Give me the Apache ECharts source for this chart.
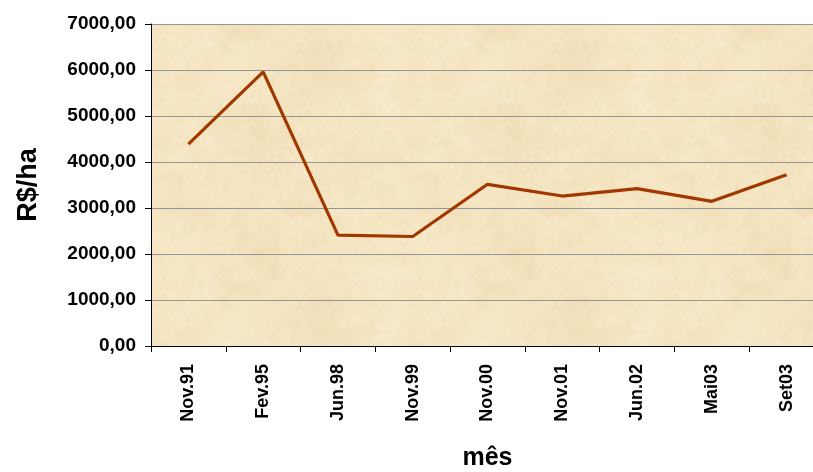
<!DOCTYPE html>
<html>
<head>
<meta charset="utf-8">
<script src="https://cdn.jsdelivr.net/npm/echarts@6/dist/echarts.min.js"></script>
<style>
  html, body { margin: 0; padding: 0; background: #ffffff; }
  #chart { width: 813px; height: 472px; }
</style>
</head>
<body>
<div id="chart"></div>
<script>
// Custo por hectare ao longo dos levantamentos
const months = ['Nov.91', 'Fev.95', 'Jun.98', 'Nov.99', 'Nov.00', 'Nov.01', 'Jun.02', 'Mai03', 'Set03'];
const costPerHa = [4390, 5960, 2410, 2380, 3515, 3260, 3420, 3145, 3725];
const yTicks = { min: 0, max: 7000, interval: 1000 };

// Parchment-like texture for the plot area (smooth value noise, deterministic)
function parchment(size) {
  const c = document.createElement('canvas');
  c.width = c.height = size;
  const ctx = c.getContext('2d');
  const img = ctx.createImageData(size, size);
  const h = (i, j) => {
    const s = Math.sin(i * 127.1 + j * 311.7) * 43758.5453;
    return s - Math.floor(s);
  };
  const smooth = t => t * t * (3 - 2 * t);
  const noise = (x, y, cell) => {
    const gx = x / cell, gy = y / cell;
    const x0 = Math.floor(gx), y0 = Math.floor(gy);
    const n = size / cell;
    const fx = smooth(gx - x0), fy = smooth(gy - y0);
    const a = h(x0 % n, y0 % n), b = h((x0 + 1) % n, y0 % n);
    const c2 = h(x0 % n, (y0 + 1) % n), d = h((x0 + 1) % n, (y0 + 1) % n);
    return (a * (1 - fx) + b * fx) * (1 - fy) + (c2 * (1 - fx) + d * fx) * fy;
  };
  for (let y = 0; y < size; y++) {
    for (let x = 0; x < size; x++) {
      const v = 0.35 * noise(x, y, 64) + 0.35 * noise(x, y, 16) + 0.3 * noise(x, y, 4);
      const t = v - 0.5;
      const k = (y * size + x) * 4;
      img.data[k] = 244 + t * 12;
      img.data[k + 1] = 228 + t * 20;
      img.data[k + 2] = 193 + t * 30;
      img.data[k + 3] = 255;
    }
  }
  ctx.putImageData(img, 0, 0);
  return c;
}

const chart = echarts.init(document.getElementById('chart'), null, { renderer: 'canvas' });
const boldText = { fontFamily: 'Liberation Sans, Arial, sans-serif', fontWeight: 'bold', color: '#000' };

chart.setOption({
  animation: false,
  backgroundColor: '#ffffff',
  grid: {
    left: 151, width: 673, top: 24, bottom: 126,
    containLabel: false,
    outerBoundsMode: 'none',
    show: true,
    borderWidth: 0,
    backgroundColor: { image: parchment(256), repeat: 'repeat' }
  },
  xAxis: {
    type: 'category',
    data: months,
    boundaryGap: true,
    name: 'mês',
    nameLocation: 'middle',
    nameGap: 100,
    nameTextStyle: Object.assign({ fontSize: 25 }, boldText),
    axisLine: { lineStyle: { color: '#000', width: 1 } },
    axisTick: { show: true, alignWithLabel: false, length: 6, lineStyle: { color: '#000' } },
    axisLabel: Object.assign({ rotate: 90, margin: 18, fontSize: 18, interval: 0 }, boldText),
    splitLine: { show: false }
  },
  yAxis: {
    type: 'value',
    min: yTicks.min, max: yTicks.max, interval: yTicks.interval,
    name: 'R$/ha',
    nameLocation: 'middle',
    nameGap: 109,
    nameRotate: 90,
    nameTextStyle: Object.assign({ fontSize: 27 }, boldText),
    axisLine: { show: true, lineStyle: { color: '#000', width: 1 } },
    axisTick: { show: true, length: 6, lineStyle: { color: '#000' } },
    axisLabel: Object.assign({
      margin: 15, fontSize: 19,
      formatter: v => v.toFixed(2).replace('.', ',')
    }, boldText),
    splitLine: { show: true, lineStyle: { color: '#959595', width: 1 } }
  },
  series: [{
    type: 'line',
    data: costPerHa,
    symbol: 'none',
    lineStyle: { color: '#a03800', width: 3.2 }
  }]
});
</script>
</body>
</html>
